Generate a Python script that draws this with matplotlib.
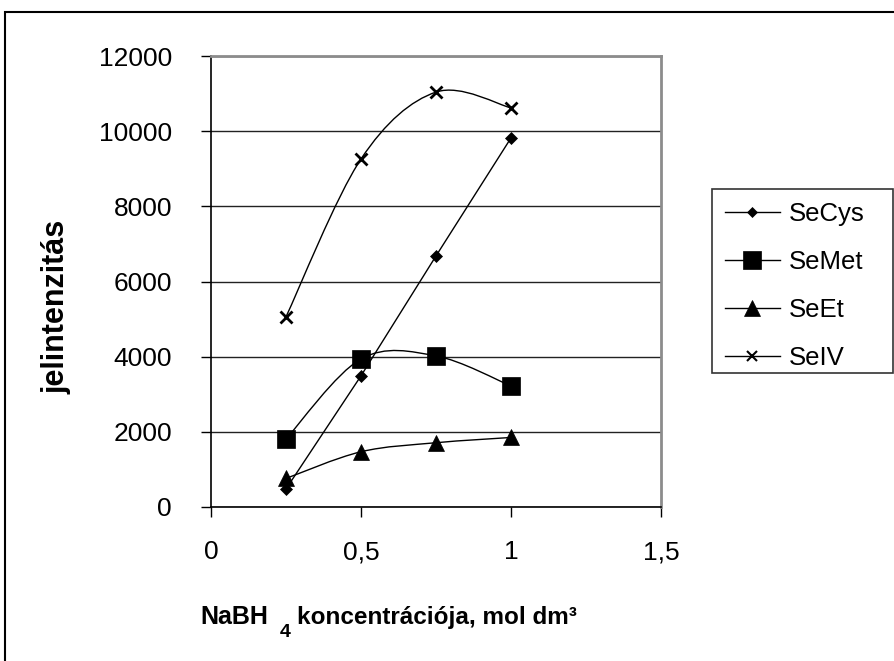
import matplotlib
matplotlib.use("Agg")
import matplotlib.pyplot as plt
import numpy as np
from matplotlib.path import Path
from matplotlib.patches import PathPatch, Rectangle
from matplotlib.lines import Line2D

plt.rcParams['font.family'] = ['Liberation Sans', 'DejaVu Sans']

# Data
conc = [0.25, 0.5, 0.75, 1.0]
secys = [480, 3490, 6680, 9820]
semet = [1810, 3940, 4020, 3220]
seet = [760, 1470, 1710, 1850]
seiv = [5060, 9260, 11040, 10620]

series_names = ["SeCys", "SeMet", "SeEt", "SeIV"]
series_vals = [secys, semet, seet, seiv]
smoothed = [False, True, True, True]
markers = ["D", "s", "^", "x"]
msizes = [6, 13, 12, 8]

x_ticks = [0, 0.5, 1, 1.5]
x_ticklabels = ["0", "0,5", "1", "1,5"]
y_ticks = [0, 2000, 4000, 6000, 8000, 10000, 12000]

W, H = 895, 661
fig = plt.figure(figsize=(W / 100, H / 100), dpi=100)
fig.patch.set_facecolor("white")

# outer border
fig.patches.append(Rectangle((5 / W, -0.1), 1.2, 1 - 12 / H + 0.1, transform=fig.transFigure,
                             fill=False, edgecolor="black", lw=1.5))

ax = fig.add_axes([211 / W, 1 - 507 / H, 450 / W, 451 / H])
ax.set_xlim(0, 1.5)
ax.set_ylim(0, 12000)


def smooth_path(xs, ys):
    pts = np.column_stack([xs, ys]).astype(float)
    n = len(pts)
    verts = [pts[0]]
    codes = [Path.MOVETO]
    for i in range(n - 1):
        p0 = pts[i - 1] if i > 0 else pts[i]
        p1 = pts[i]
        p2 = pts[i + 1]
        p3 = pts[i + 2] if i + 2 < n else pts[i + 1]
        c1 = p1 + (p2 - p0) / 6.0
        c2 = p2 - (p3 - p1) / 6.0
        verts += [c1, c2, p2]
        codes += [Path.CURVE4] * 3
    return Path(verts, codes)


handles = []
for name, vals, sm, mk, ms in zip(series_names, series_vals, smoothed, markers, msizes):
    if sm:
        ax.add_patch(PathPatch(smooth_path(conc, vals), fill=False, edgecolor="black", lw=1.0, zorder=3))
    else:
        ax.plot(conc, vals, color="black", lw=1.0, zorder=3)
    mew = 2 if mk == "x" else 0.5
    ax.plot(conc, vals, linestyle="none", marker=mk, markersize=ms, color="black",
            markeredgewidth=mew, zorder=4)
    handles.append(Line2D([], [], color="black", lw=1.0, marker=mk,
                          markersize=ms if mk in ("s", "^") else ms * 0.85,
                          markeredgewidth=1.5 if mk == "x" else 0.5))

ax.set_xticks(x_ticks)
ax.set_xticklabels(x_ticklabels)
ax.set_yticks(y_ticks)
ax.set_yticklabels([str(v) for v in y_ticks])
ax.yaxis.grid(True, color="#222222", lw=1.0)
ax.set_axisbelow(True)
ax.tick_params(axis="both", direction="out", length=7, width=1, colors="black", labelsize=19)
ax.tick_params(axis="y", pad=21)
ax.tick_params(axis="x", pad=17)

for s in ("left", "bottom"):
    ax.spines[s].set_color("black")
    ax.spines[s].set_linewidth(1.2)
for s in ("top", "right"):
    ax.spines[s].set_color("#8c8c8c")
    ax.spines[s].set_linewidth(2)

fig.text(57 / W, 1 - 307 / H, "jelintenzitás", rotation=90, ha="center", va="center",
         fontsize=22, fontweight="bold")

# x label in pieces (NaBH, subscript 4, rest)
fig.text(200 / W, 1 - 624 / H, "NaBH", ha="left", va="baseline",
         fontsize=18, fontweight="bold")
fig.text(280 / W, 1 - 637 / H, "4", ha="left", va="baseline",
         fontsize=14, fontweight="bold")
fig.text(297 / W, 1 - 624 / H, "koncentrációja, mol dm³", ha="left", va="baseline",
         fontsize=17.5, fontweight="bold")

# legend frame drawn as a box, entries via legend without its own frame
fig.patches.append(Rectangle((712 / W, 1 - 373 / H), (893 - 712) / W, (373 - 189) / H,
                             transform=fig.transFigure, fill=False, edgecolor="#333333", lw=1.2))
leg = fig.legend(handles, series_names, loc="upper left",
                 bbox_to_anchor=(712 / W, 1 - 189 / H), bbox_transform=fig.transFigure,
                 frameon=False, fontsize=18.5,
                 handlelength=2.14, handletextpad=0.35, labelspacing=0.94, borderpad=0.5,
                 borderaxespad=0)

fig.savefig("out.png", dpi=100, facecolor="white")
